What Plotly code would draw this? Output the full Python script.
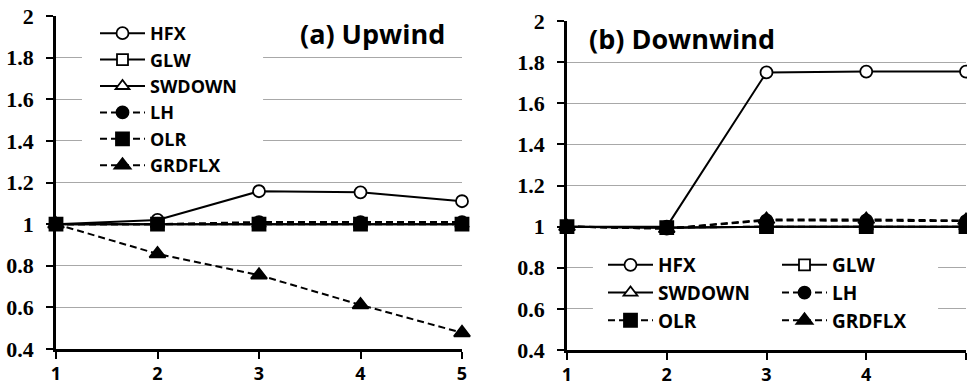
import plotly.graph_objects as go

W, H = 967, 388

x_vals = [1, 2, 3, 4, 5]
series_names = ["HFX", "GLW", "SWDOWN", "LH", "OLR", "GRDFLX"]

# (a) Upwind
up_hfx = [1.0, 1.02, 1.158, 1.153, 1.11]
up_glw = [1.0, 1.0, 1.0, 1.0, 1.0]
up_swdown = [1.0, 1.0, 1.0, 1.0, 1.0]
up_lh = [1.0, 1.0, 1.01, 1.01, 1.01]
up_olr = [1.0, 1.0, 1.0, 1.0, 1.0]
up_grdflx = [1.0, 0.857, 0.755, 0.612, 0.478]

# (b) Downwind
dn_hfx = [1.0, 1.0, 1.75, 1.754, 1.754]
dn_glw = [1.0, 0.995, 1.0, 1.0, 1.0]
dn_swdown = [1.0, 0.995, 1.0, 1.0, 1.0]
dn_lh = [1.0, 0.99, 1.03, 1.03, 1.027]
dn_olr = [1.0, 0.995, 1.0, 1.0, 1.0]
dn_grdflx = [1.0, 0.99, 1.035, 1.035, 1.03]

y_ticks = [0.4, 0.6, 0.8, 1.0, 1.2, 1.4, 1.6, 1.8, 2.0]
y_tick_labels = ["0.4", "0.6", "0.8", "1", "1.2", "1.4", "1.6", "1.8", "2"]
x_ticks = [1, 2, 3, 4, 5]
x_tick_labels = ["1", "2", "3", "4", "5"]

up_data = [up_hfx, up_glw, up_swdown, up_lh, up_olr, up_grdflx]
dn_data = [dn_hfx, dn_glw, dn_swdown, dn_lh, dn_olr, dn_grdflx]

styles = {
    "HFX": dict(symbol="circle", fill="white", dash="solid", size=12),
    "GLW": dict(symbol="square", fill="white", dash="solid", size=11),
    "SWDOWN": dict(symbol="triangle-up", fill="white", dash="solid", size=12),
    "LH": dict(symbol="circle", fill="black", dash="7px,4px", size=12),
    "OLR": dict(symbol="square", fill="black", dash="7px,4px", size=13),
    "GRDFLX": dict(symbol="triangle-up", fill="black", dash="7px,4px", size=14),
}

right_legend = {"HFX": "legend2", "SWDOWN": "legend2", "OLR": "legend2",
                "GLW": "legend3", "LH": "legend3", "GRDFLX": "legend3"}

fig = go.Figure()

def add(name, ys, xa, ya, legend):
    st = styles[name]
    fig.add_trace(go.Scatter(
        x=x_vals, y=ys, name=name, mode="lines+markers",
        xaxis=xa, yaxis=ya, legend=legend, cliponaxis=False,
        line=dict(color="black", width=2, dash=st["dash"]),
        marker=dict(symbol=st["symbol"], size=st["size"], color=st["fill"],
                    line=dict(color="black", width=1.8)),
    ))

for name, ys in zip(series_names, up_data):
    add(name, ys, "x", "y", "legend")
for name, ys in zip(series_names, dn_data):
    add(name, ys, "x2", "y2", right_legend[name])

leg_font = dict(family="Open Sans", size=18, color="black", weight="bold")
leg_font_r = dict(family="Open Sans", size=19, color="black", weight="bold")

y_text = ['<span style="font-family:Liberation Serif;font-size:22px;font-weight:bold">'
          + t + '</span>' for t in y_tick_labels]
x_text = ['<span style="font-family:Open Sans;font-size:18px;font-weight:bold">'
          + t + '</span>' for t in x_tick_labels]

def yaxis(dom, anchor):
    return dict(domain=dom, anchor=anchor, range=[0.4, 2.0],
                tickmode="array", tickvals=y_ticks, ticktext=y_text,
                showgrid=True, gridcolor="#a8a8a8", gridwidth=1, zeroline=False,
                showline=True, linecolor="black", linewidth=2.5, automargin=False,
                ticks="outside", ticklen=7, tickwidth=2, tickcolor="black",
                tickfont=dict(family="Liberation Serif", size=22, color="black",
                              weight="bold"),
                ticklabelstandoff=8)

def xaxis(dom, anchor):
    return dict(domain=dom, anchor=anchor, range=[1, 5],
                tickmode="array", tickvals=x_ticks, ticktext=x_text,
                showgrid=False, zeroline=False, automargin=False,
                showline=True, linecolor="black", linewidth=2.5,
                ticks="outside", ticklen=7, tickwidth=2, tickcolor="black",
                tickfont=dict(family="Open Sans", size=18, color="black",
                              weight="bold"))

fig.update_layout(
    template="none",
    width=W, height=H,
    margin=dict(l=0, r=0, t=0, b=0, autoexpand=False),
    paper_bgcolor="white", plot_bgcolor="white",
    xaxis=xaxis([56 / W, 462 / W], "y"),
    yaxis=yaxis([1 - 349 / H, 1 - 16 / H], "x"),
    xaxis2=xaxis([567 / W, 966 / W], "y2"),
    yaxis2=yaxis([1 - 350 / H, 1 - 21 / H], "x2"),
    legend=dict(x=95 / W, y=1 - 15 / H, xanchor="left", yanchor="top",
                bgcolor="rgba(0,0,0,0)", font=leg_font, tracegroupgap=0,
                itemwidth=45),
    legend2=dict(x=603 / W, y=1 - 246 / H, xanchor="left", yanchor="top",
                 bgcolor="rgba(0,0,0,0)", font=leg_font_r, tracegroupgap=0,
                 itemwidth=45),
    legend3=dict(x=777 / W, y=1 - 246 / H, xanchor="left", yanchor="top",
                 bgcolor="rgba(0,0,0,0)", font=leg_font_r, tracegroupgap=0,
                 itemwidth=45),
    showlegend=True,
)

# white boxes hiding gridlines behind the legends
fig.add_shape(type="rect", xref="x", yref="y",
              x0=1.256, x1=3.04, y0=1.236, y1=1.98,
              fillcolor="white", line=dict(width=0), layer="between")
fig.add_shape(type="rect", xref="x2", yref="y2",
              x0=1.26, x1=4.72, y0=0.473, y1=0.886,
              fillcolor="white", line=dict(width=0), layer="between")

title_font = dict(family="Open Sans", size=27, color="black", weight="bold")
fig.add_annotation(text="(a) Upwind", xref="paper", yref="paper",
                   x=372 / W, y=1 - 33 / H, xanchor="center", yanchor="middle",
                   showarrow=False, font=title_font)
fig.add_annotation(text="(b) Downwind", xref="paper", yref="paper",
                   x=682 / W, y=1 - 39 / H, xanchor="center", yanchor="middle",
                   showarrow=False, font=title_font)

fig.write_html("out.html")
